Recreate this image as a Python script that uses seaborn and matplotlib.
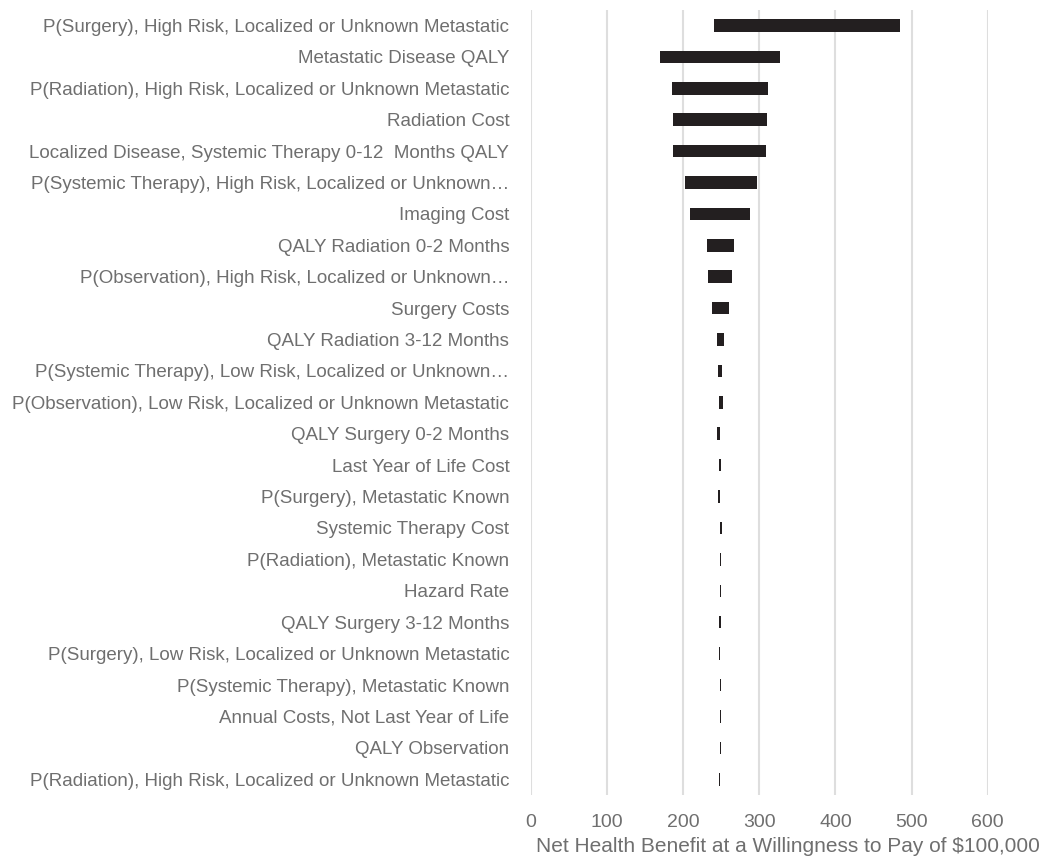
import matplotlib
matplotlib.use("Agg")
import matplotlib.pyplot as plt
import seaborn as sns
import pandas as pd

labels = [
    "P(Surgery), High Risk, Localized or Unknown Metastatic",
    "Metastatic Disease QALY",
    "P(Radiation), High Risk, Localized or Unknown Metastatic",
    "Radiation Cost",
    "Localized Disease, Systemic Therapy 0-12  Months QALY",
    "P(Systemic Therapy), High Risk, Localized or Unknown\u2026",
    "Imaging Cost",
    "QALY Radiation 0-2 Months",
    "P(Observation), High Risk, Localized or Unknown\u2026",
    "Surgery Costs",
    "QALY Radiation 3-12 Months",
    "P(Systemic Therapy), Low Risk, Localized or Unknown\u2026",
    "P(Observation), Low Risk, Localized or Unknown Metastatic",
    "QALY Surgery 0-2 Months",
    "Last Year of Life Cost",
    "P(Surgery), Metastatic Known",
    "Systemic Therapy Cost",
    "P(Radiation), Metastatic Known",
    "Hazard Rate",
    "QALY Surgery 3-12 Months",
    "P(Surgery), Low Risk, Localized or Unknown Metastatic",
    "P(Systemic Therapy), Metastatic Known",
    "Annual Costs, Not Last Year of Life",
    "QALY Observation",
    "P(Radiation), High Risk, Localized or Unknown Metastatic",
]
low_values = [241, 170, 185, 187, 187, 202, 209.5, 231, 232.6, 237.5, 245, 245.8,
              247.5, 244.9, 246.6, 245.3, 248, 248, 248, 247.5, 246.8, 249, 248, 248, 246.8]
high_values = [485, 327, 311, 310, 309, 296.5, 288, 267, 264.6, 259.8, 254, 250.6,
               252.3, 248.8, 249.7, 248, 250.5, 250.2, 250.2, 249.5, 248.8, 250, 249.2, 249.2, 247.8]

df = pd.DataFrame({"row": list(range(len(labels))), "label": labels,
                   "low": low_values, "high": high_values})

sns.set_theme(style="white")
plt.rcParams["font.family"] = ["Liberation Sans", "DejaVu Sans"]

fig = plt.figure(figsize=(10.43, 8.61), dpi=100)
ax = fig.add_axes([0.509, 0.0767, 0.438, 0.912])

sns.barplot(data=df, x="high", y="row", orient="y", color="#231f20",
            width=0.4, saturation=1, ax=ax, zorder=3, edgecolor="none")
for patch, lo, hi in zip(ax.patches, df["low"], df["high"]):
    patch.set_x(lo)
    patch.set_width(hi - lo)

ax.set_xlim(0, 600)
ax.set_ylim(24.5, -0.5)
ax.set_yticks(range(len(labels)))
ax.set_yticklabels(df["label"])
ax.set_xticks([0, 100, 200, 300, 400, 500, 600])
ax.xaxis.grid(True, color="#dedede", linewidth=1.5, zorder=0)
ax.yaxis.grid(False)
for s in ax.spines.values():
    s.set_visible(False)

label_color = "#6f6f6f"
ax.tick_params(axis="y", length=0, pad=15.5, labelsize=13.5, labelcolor=label_color)
ax.tick_params(axis="x", length=0, pad=14, labelsize=14, labelcolor=label_color)
ax.set_ylabel("")
ax.set_xlabel("Net Health Benefit at a Willingness to Pay of $100,000",
              fontsize=15, color=label_color)
ax.xaxis.set_label_coords(0.563, -0.054)

fig.savefig("out.png", dpi=100)
